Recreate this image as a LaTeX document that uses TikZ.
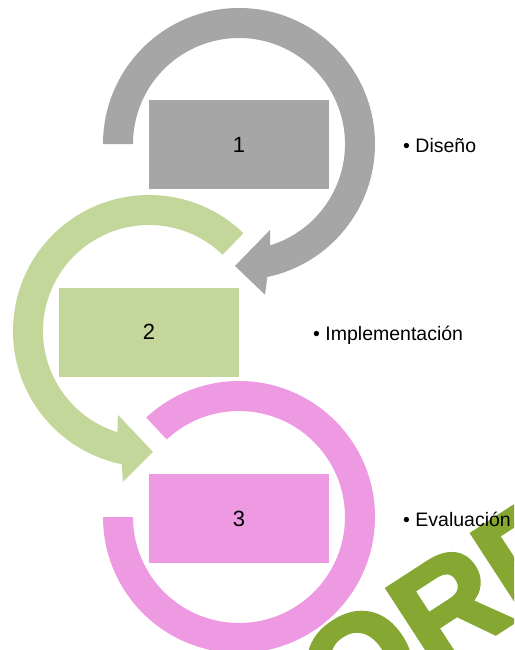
\documentclass[tikz,border=0pt]{standalone}
\usepackage{fontspec}
\setmainfont{Liberation Sans}
\newfontfamily\wmfont[FakeBold=3]{Liberation Sans Bold}
\usetikzlibrary{calc}
\definecolor{cgray}{HTML}{A6A6A6}
\definecolor{cgreen}{HTML}{C4D79B}
\definecolor{cpink}{HTML}{EE9AE2}
\definecolor{cwm}{HTML}{86A832}
\begin{document}
\begin{tikzpicture}[x=1pt,y=1pt,
  box/.style={inner sep=0pt, minimum width=180pt, minimum height=89pt, font=\fontsize{22}{22}\selectfont},
  lbl/.style={anchor=base west, inner sep=0pt, font=\fontsize{19.5}{20}\selectfont}]
\useasboundingbox (0,0) rectangle (514,-650);
\begin{scope}
\clip (0,0) rectangle (514,-650);
\node[rotate=33, anchor=base west, inner sep=0pt, text=cwm, font=\wmfont\fontsize{140}{140}\selectfont] (wm) at (256,-789) {BORRADOR};
\end{scope}
\coordinate (c1) at (239,-144);
\coordinate (c2) at (149,-331);
\coordinate (c3) at (239,-517);
% gray arrow
\fill[cgray] ($(c1)+(180:136pt)$) arc[start angle=180, end angle=-78, radius=136pt]
  -- ($(c1)+(-80.2:153pt)$) -- ($(c1)+(-91.9:122pt)$) -- ($(c1)+(-70.2:91.4pt)$)
  -- ($(c1)+(-72.9:106pt)$) arc[start angle=-72.9, end angle=180, radius=106pt] -- cycle;
% green arrow
\fill[cgreen] ($(c2)+(46:136pt)$) arc[start angle=46, end angle=258.4, radius=136pt]
  -- ($(c2)+(260.2:153pt)$) -- ($(c2)+(271.9:121pt)$) -- ($(c2)+(249.7:89.5pt)$)
  -- ($(c2)+(252.6:106pt)$) arc[start angle=252.6, end angle=46, radius=106pt] -- cycle;
% pink ring
\fill[cpink] ($(c3)+(180:136pt)$) arc[start angle=180, end angle=493, radius=136pt]
  -- ($(c3)+(133:106pt)$) arc[start angle=133, end angle=-180, radius=106pt] -- cycle;
% boxes
\node[box, fill=cgray] (r1) at (239,-144.5) {1};
\node[box, fill=cgreen] (r2) at (149,-332) {2};
\node[box, fill=cpink] (r3) at (239,-518.5) {3};
% labels
\node[lbl] (l1) at (403,-152) {• Diseño};
\node[lbl] (l2) at (313,-340) {• Implementación};
\node[lbl] (l3) at (403,-526) {• Evaluación};
\end{tikzpicture}
\end{document}
